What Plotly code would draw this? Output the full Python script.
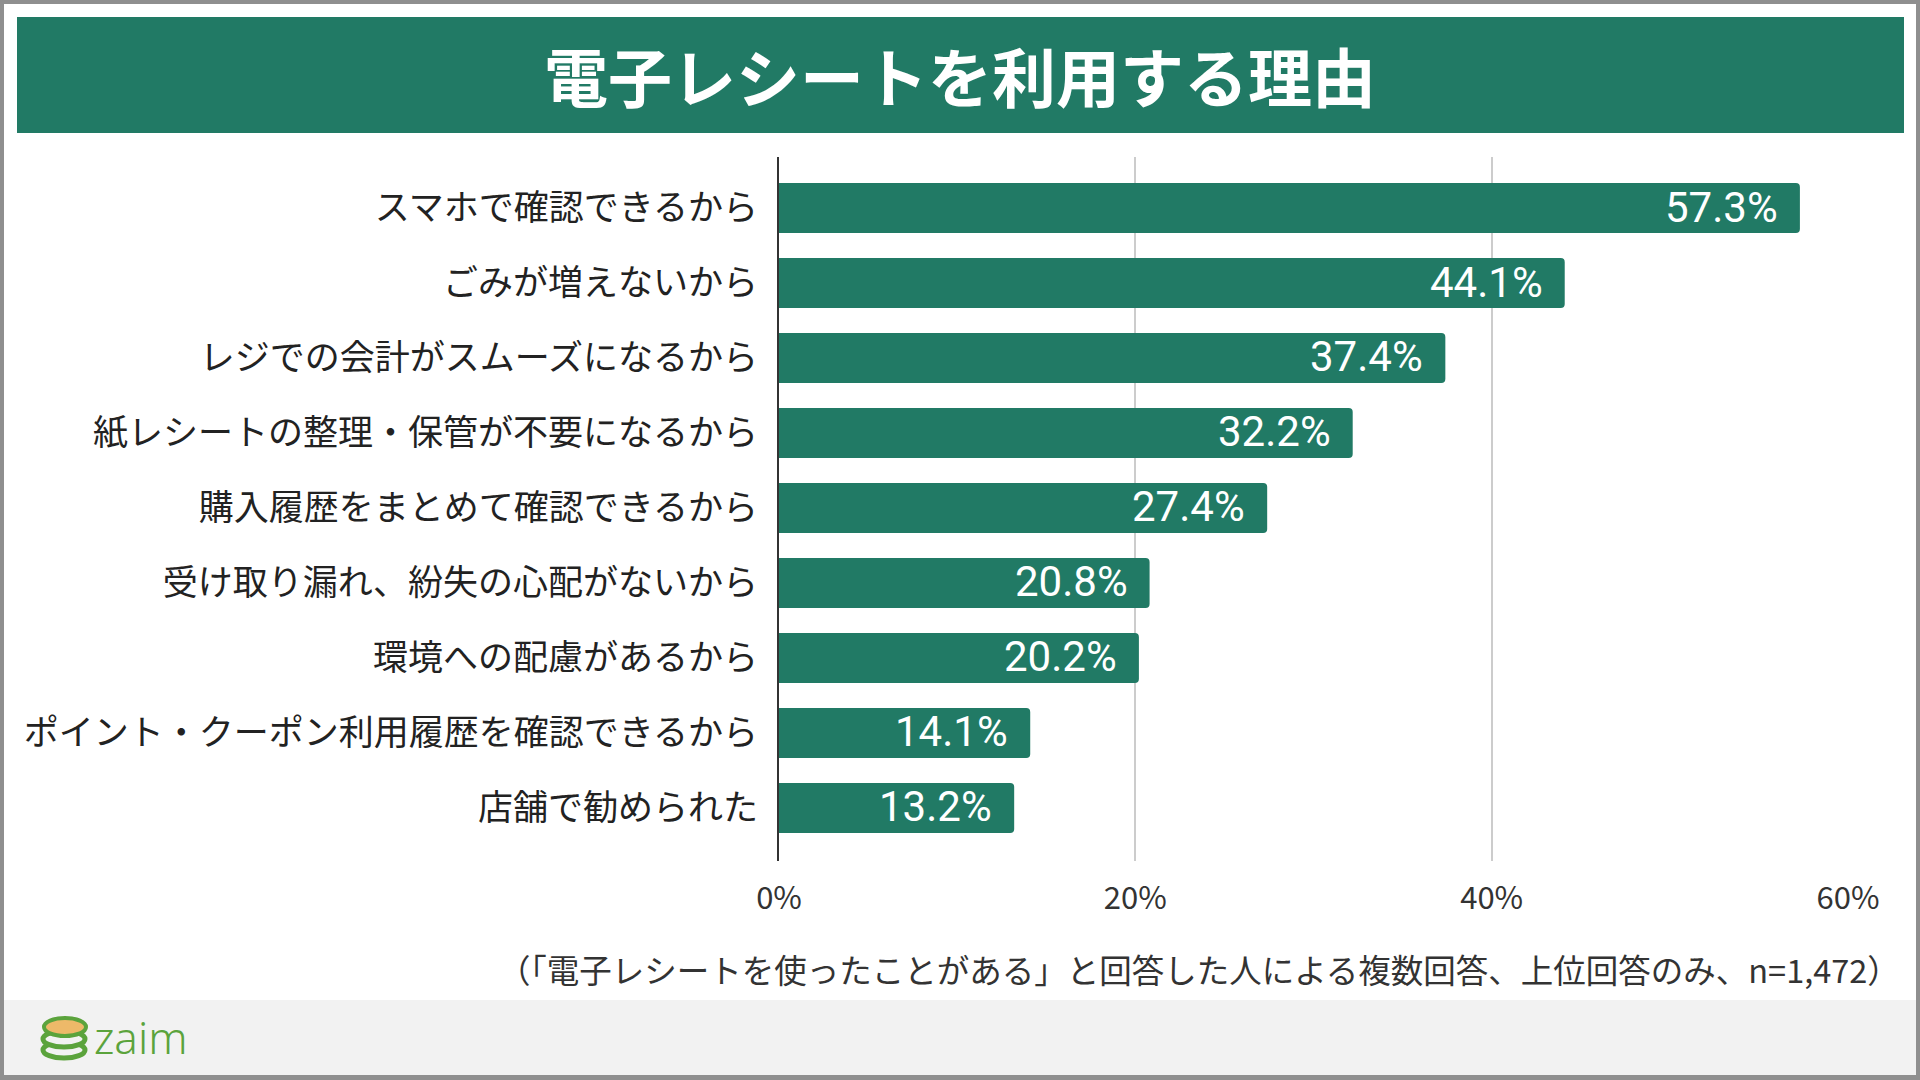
import plotly.graph_objects as go

# 電子レシートを利用する理由 (複数回答, n=1,472)
reasons = [
    "スマホで確認できるから",
    "ごみが増えないから",
    "レジでの会計がスムーズになるから",
    "紙レシートの整理・保管が不要になるから",
    "購入履歴をまとめて確認できるから",
    "受け取り漏れ、紛失の心配がないから",
    "環境への配慮があるから",
    "ポイント・クーポン利用履歴を確認できるから",
    "店舗で勧められた",
]
percents = [57.3, 44.1, 37.4, 32.2, 27.4, 20.8, 20.2, 14.1, 13.2]
tick_vals = [0, 20, 40, 60]
tick_text = ["0%", "20%", "40%", "60%"]

title_text = "電子レシートを利用する理由"
note_text = "（「電子レシートを使ったことがある」と回答した人による複数回答、上位回答のみ、n=1,472）"
logo_text = "zaim"

W, H = 1920, 1080
GREEN = "#217A65"
JP_FONT = "Noto Sans CJK JP"


def px(x):  # pixel -> paper (whole figure, margins are 0)
    return x / W


def py(y):
    return 1 - y / H


fig = go.Figure()

fig.add_trace(go.Bar(
    x=percents,
    y=reasons,
    orientation="h",
    marker=dict(color=GREEN, line=dict(width=0), cornerradius=4),
    hoverinfo="skip",
))

# value labels at the end of each bar
for r, v in zip(reasons, percents):
    fig.add_annotation(
        x=v, y=r, xref="x", yref="y",
        text=f"{v:.1f}%", showarrow=False,
        xanchor="right", yanchor="middle", xshift=-20, yshift=1,
        font=dict(family="Roboto", size=42, color="white"),
    )

shapes = [
    # white card inside grey frame
    dict(type="rect", xref="paper", yref="paper", x0=px(4), x1=px(1916), y0=py(4), y1=py(1075),
         fillcolor="white", line=dict(width=0), layer="below"),
    # title band
    dict(type="rect", xref="paper", yref="paper", x0=px(17), x1=px(1904), y0=py(17), y1=py(133),
         fillcolor=GREEN, line=dict(width=0), layer="below"),
    # footer band
    dict(type="rect", xref="paper", yref="paper", x0=px(4), x1=px(1916), y0=py(1000), y1=py(1075),
         fillcolor="#F2F2F2", line=dict(width=0), layer="below"),
]

# coin stack logo
LOGO_G = "#5BA33C"
for cy in [1050, 1039]:
    shapes.append(dict(type="circle", xref="paper", yref="paper",
                       x0=px(43), x1=px(85), y0=py(cy - 8), y1=py(cy + 8),
                       fillcolor="#F2F2F2", line=dict(color=LOGO_G, width=5), layer="above"))
shapes.append(dict(type="circle", xref="paper", yref="paper",
                   x0=px(44), x1=px(86), y0=py(1018), y1=py(1036),
                   fillcolor="#EDB969", line=dict(color=LOGO_G, width=4), layer="above"))
fig.update_layout(shapes=shapes)

fig.add_annotation(
    x=px(960), y=py(74), xref="paper", yref="paper",
    text=f"<b>{title_text}</b>", showarrow=False,
    xanchor="center", yanchor="middle",
    font=dict(family=JP_FONT, size=64, color="white"),
)
fig.add_annotation(
    x=px(1902), y=py(968), xref="paper", yref="paper",
    text=note_text, showarrow=False,
    xanchor="right", yanchor="middle",
    font=dict(family=JP_FONT, size=32.5, color="#333333"),
)
fig.add_annotation(
    x=px(92), y=py(1037), xref="paper", yref="paper",
    text=logo_text, showarrow=False,
    xanchor="left", yanchor="middle",
    font=dict(family="Noto Sans", size=44, color=LOGO_G, weight=300),
)

fig.update_layout(
    width=W, height=H,
    margin=dict(l=0, r=0, t=0, b=0, autoexpand=False),
    paper_bgcolor="#8F8F8F",
    plot_bgcolor="rgba(0,0,0,0)",
    showlegend=False,
    bargap=0.333,
    font=dict(family=JP_FONT),
)

fig.update_xaxes(
    domain=[px(779), px(1848)],
    range=[0, 60],
    tickvals=tick_vals, ticktext=tick_text,
    showgrid=True, gridcolor="#CCCCCC", gridwidth=2,
    zeroline=False, showline=False,
    ticks="", ticklabelstandoff=16,
    tickfont=dict(family=JP_FONT, size=31, color="#333333"),
    fixedrange=True,
)
fig.update_yaxes(
    domain=[py(861), py(157)],
    range=[8.707, -0.68],
    showgrid=False,
    showline=True, linecolor="#333333", linewidth=2,
    ticks="", ticklabelstandoff=12,
    tickfont=dict(family=JP_FONT, size=35, color="#222222"),
    fixedrange=True,
)

# the page body has a default 8px margin; drop it so the figure fills the window
fig.write_html("out.html", config={"displayModeBar": False},
               post_script="document.body.style.margin='0';")
